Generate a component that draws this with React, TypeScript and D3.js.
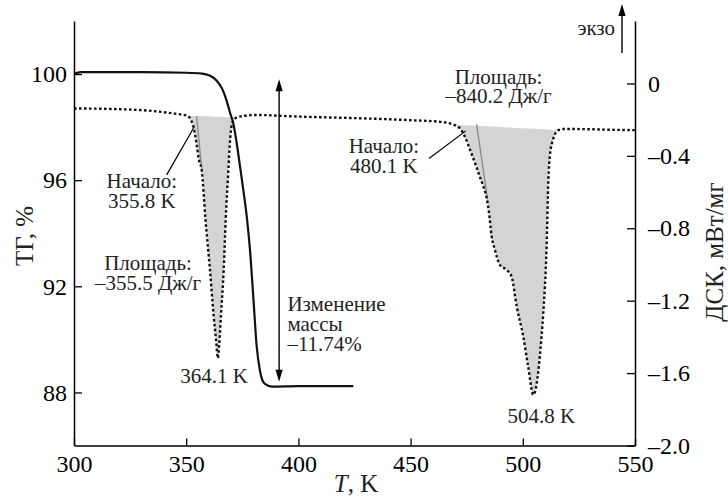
import React, { useEffect, useRef } from "react";
import * as d3 from "d3";

const W = 728;
const H = 497;
const FONT = "'Liberation Serif', 'Times New Roman', serif";

// TG curve (mass, %)
const tgT = [300, 303, 330, 350, 357, 359.1, 361.5, 363.6, 366, 368, 369.5, 371, 372.5, 374, 375.5, 377, 378.4, 379.9, 381.4, 382.9, 384, 385.1, 388.1, 400, 424.5];
const tgV = [100.0, 100.07, 100.07, 100.05, 100.02, 99.98, 99.9, 99.75, 99.45, 99.0, 98.55, 98.14, 97.4, 96.51, 95.6, 94.62, 93.4, 91.6, 89.75, 88.8, 88.45, 88.32, 88.22, 88.24, 88.24];

// DSC curve (mW/mg)
const dscT = [300, 320, 335, 345, 350.4, 353.0, 354.7, 355.7, 356.9, 358.6, 360.6, 362.2, 363.3, 364.1, 364.7, 365.5, 366.7, 367.6, 368.8, 369.4, 370.3, 371.0, 372.5, 374.7, 380.7, 400, 429, 450, 463.1, 469.0, 472.0, 474.2, 475.7, 477.9, 479.5, 480.9, 482.5, 483.9, 484.9, 486.1, 487.6, 489.8, 492.8, 495.0, 497.3, 500.2, 502.4, 504.7, 506.2, 507.7, 509.1, 510.6, 511.4, 512.1, 513.6, 515.8, 518.0, 524, 540, 550];
const dscV = [-0.138, -0.142, -0.152, -0.167, -0.178, -0.229, -0.34, -0.423, -0.478, -0.754, -1.03, -1.279, -1.417, -1.517, -1.445, -1.279, -1.03, -0.754, -0.478, -0.34, -0.229, -0.207, -0.188, -0.181, -0.174, -0.183, -0.193, -0.203, -0.212, -0.227, -0.248, -0.294, -0.34, -0.413, -0.467, -0.517, -0.572, -0.633, -0.71, -0.843, -0.92, -1.003, -1.03, -1.067, -1.233, -1.398, -1.564, -1.72, -1.658, -1.492, -1.271, -0.903, -0.534, -0.396, -0.304, -0.258, -0.252, -0.252, -0.256, -0.258];

// integrated peaks: baseline ends and onset tangents
const peakStart = [350.4, 469.0];
const peakEnd = [372.5, 515.8];
const tangentT = [[354.6, 357.0], [479.4, 484.3]];
const tangentV = [[-0.18, -0.478], [-0.225, -0.64]];

const xTicks = [300, 350, 400, 450, 500, 550];
const tgTicks = [88, 92, 96, 100];
const dscTicks = [-2.0, -1.6, -1.2, -0.8, -0.4, 0];

const x = d3.scaleLinear().domain([300, 550]).range([74, 635]);
const yL = d3.scaleLinear().domain([86, 102]).range([445.5, 21]);
const yR = d3.scaleLinear().domain([-2, 0.345]).range([445.5, 21]);

const dash = (n: number) => (n < 0 ? "\u2013" + d3.format(".1f")(-n) : n === 0 ? "0" : d3.format(".1f")(n));

function Arrow({ x0, y0, dir }: { x0: number; y0: number; dir: number }) {
  // dir = -1 points up, 1 points down; (x0, y0) is the tip
  const l = 12;
  const w = 3.6;
  return <path d={`M${x0},${y0} L${x0 - w},${y0 - dir * l} L${x0 + w},${y0 - dir * l} Z`} fill="#000" />;
}

export default function App() {
  const xRef = useRef<SVGGElement>(null);
  const lRef = useRef<SVGGElement>(null);
  const rRef = useRef<SVGGElement>(null);

  useEffect(() => {
    const style = (g: d3.Selection<SVGGElement, unknown, null, undefined>) => {
      g.attr("font-family", FONT).attr("font-size", 24);
      g.select(".domain").attr("stroke-width", 1.5);
      g.selectAll(".tick line").attr("stroke-width", 1.3);
    };
    const gx = d3.select(xRef.current!);
    gx.call(d3.axisBottom(x).tickValues(xTicks).tickSize(-7).tickSizeOuter(0).tickPadding(9).tickFormat(d3.format("d")));
    style(gx);
    const gl = d3.select(lRef.current!);
    gl.call(d3.axisLeft(yL).tickValues(tgTicks).tickSize(-8).tickSizeOuter(0).tickPadding(7).tickFormat(d3.format("d")));
    style(gl);
    const gr = d3.select(rRef.current!);
    gr.call(d3.axisRight(yR).tickValues(dscTicks).tickSize(-8).tickSizeOuter(0).tickPadding(13).tickFormat((d) => dash(+d)));
    style(gr);
  }, []);

  const dscPts: [number, number][] = dscT.map((t, i) => [t, dscV[i]]);
  const tgPts: [number, number][] = tgT.map((t, i) => [t, tgV[i]]);

  const dscLine = d3.line<[number, number]>().x((d) => x(d[0])).y((d) => yR(d[1])).curve(d3.curveMonotoneX);
  const tgLine = d3.line<[number, number]>().x((d) => x(d[0])).y((d) => yL(d[1])).curve(d3.curveMonotoneX);

  const fills = peakStart.map((s, k) => {
    const e = peakEnd[k];
    const pts = dscPts.filter((p) => p[0] >= s && p[0] <= e);
    const vs = pts[0][1];
    const ve = pts[pts.length - 1][1];
    const base = d3.scaleLinear().domain([s, e]).range([vs, ve]);
    const area = d3
      .area<[number, number]>()
      .x((d) => x(d[0]))
      .y0((d) => yR(base(d[0])))
      .y1((d) => yR(d[1]))
      .curve(d3.curveMonotoneX);
    return area(pts) || "";
  });

  const massX = x(391.4);
  const massTop = yL(99.8);
  const massBot = yL(88.4);
  const exoX = x(550) - 13;

  const txt = { fontFamily: FONT, fontSize: 21, fill: "#222" } as const;

  return (
    <svg width={W} height={H} style={{ position: "absolute", left: 0, top: 0, background: "#fff" }}>
      {fills.map((d, i) => (
        <path key={i} d={d} fill="#d4d4d4" stroke="none" />
      ))}
      {tangentT.map((tt, i) => (
        <line key={i} x1={x(tt[0])} y1={yR(tangentV[i][0])} x2={x(tt[1])} y2={yR(tangentV[i][1])} stroke="#888" strokeWidth={1.3} />
      ))}
      <path d={tgLine(tgPts) || ""} fill="none" stroke="#111" strokeWidth={2.2} />
      <path d={dscLine(dscPts) || ""} fill="none" stroke="#111" strokeWidth={2.4} strokeDasharray="2.6 2.4" />

      <g ref={xRef} transform={`translate(0,${yL.range()[0]})`} />
      <g ref={lRef} transform={`translate(${x.range()[0]},0)`} />
      <g ref={rRef} transform={`translate(${x.range()[1]},0)`} />

      {/* mass change arrow */}
      <line x1={massX} x2={massX} y1={massTop + 8} y2={massBot - 8} stroke="#000" strokeWidth={1.4} />
      <Arrow x0={massX} y0={massTop} dir={-1} />
      <Arrow x0={massX} y0={massBot} dir={1} />

      {/* exo arrow */}
      <line x1={exoX} x2={exoX} y1={53} y2={12} stroke="#000" strokeWidth={1.4} />
      <Arrow x0={exoX} y0={4} dir={-1} />
      <text x={exoX - 7} y={35} textAnchor="end" {...txt}>экзо</text>

      {/* onset pointers */}
      <line x1={x(353.6)} y1={yR(-0.239)} x2={x(341.3)} y2={yR(-0.505)} stroke="#000" strokeWidth={1.2} />
      <line x1={x(474.6)} y1={yR(-0.262)} x2={x(458.2)} y2={yR(-0.414)} stroke="#000" strokeWidth={1.2} />

      <text x={x(330.2)} y={yR(-0.577)} textAnchor="middle" {...txt}>
        <tspan>Начало:</tspan>
        <tspan x={x(330.2)} dy={20.5}>355.8 K</tspan>
      </text>
      <text x={x(333.0)} y={yR(-1.03)} textAnchor="middle" {...txt}>
        <tspan>Площадь:</tspan>
        <tspan x={x(333.0)} dy={20.5}>–355.5 Дж/г</tspan>
      </text>
      <text x={x(362.4)} y={yR(-1.655)} textAnchor="middle" {...txt}>364.1 K</text>
      <text x={x(395.1)} y={yL(91.07)} textAnchor="start" {...txt}>
        <tspan>Изменение</tspan>
        <tspan x={x(395.1)} dy={20}>массы</tspan>
        <tspan x={x(395.1)} dy={20}>–11.74%</tspan>
      </text>
      <text x={x(489.2)} y={yR(-0.003)} textAnchor="middle" {...txt}>
        <tspan>Площадь:</tspan>
        <tspan x={x(489.2)} dy={19}>–840.2 Дж/г</tspan>
      </text>
      <text x={x(438.1)} y={yR(-0.384)} textAnchor="middle" {...txt}>
        <tspan>Начало:</tspan>
        <tspan x={x(438.1)} dy={20}>480.1 K</tspan>
      </text>
      <text x={x(508.3)} y={yR(-1.876)} textAnchor="middle" {...txt}>504.8 K</text>

      {/* axis titles */}
      <text transform="translate(33,236) rotate(-90)" textAnchor="middle" fontFamily={FONT} fontSize={25} fill="#222">ТГ, %</text>
      <text transform="translate(723,252) rotate(-90)" textAnchor="middle" fontFamily={FONT} fontSize={25} fill="#222">ДСК, мВт/мг</text>
      <text x={356} y={492} textAnchor="middle" fontFamily={FONT} fontSize={25} fill="#222">
        <tspan fontStyle="italic">T</tspan>, K
      </text>
    </svg>
  );
}
